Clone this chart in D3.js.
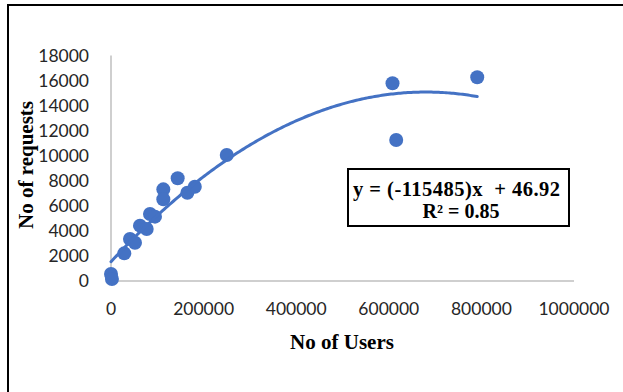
<!DOCTYPE html>
<html>
<head>
<meta charset="utf-8">
<script src="https://cdn.jsdelivr.net/npm/d3@7"></script>
<style>
  html, body { margin: 0; padding: 0; background: #fff; }
  svg { display: block; }
</style>
</head>
<body>
<svg id="chart" width="623" height="392"></svg>
<script>
// ---- data ----
const users    = [0, 2000, 28700, 41000, 51800, 62600, 77100, 84200, 95000, 113000, 113000, 144000, 165000, 181000, 250000, 608000, 616000, 791000];
const requests = [560, 160, 2210, 3350, 3060, 4420, 4150, 5350, 5140, 7320, 6530, 8200, 7050, 7530, 10060, 15790, 11260, 16270];
const xTicks = [0, 200000, 400000, 600000, 800000, 1000000];
const yTicks = [0, 2000, 4000, 6000, 8000, 10000, 12000, 14000, 16000, 18000];
// polynomial (order 2) trendline as drawn in the reference: c0 + c1*x + c2*x^2
const trendCoef = [1540, 0.03985, -2.93e-8];
const equationLines = ["y = (-115485)x  + 46.92", "R\u00B2 = 0.85"];

const blue = "#4472C4";
const svg = d3.select("#chart");

// outer frame (top and left edges visible)
svg.append("rect").attr("x", 8).attr("y", 5).attr("width", 640).attr("height", 420)
  .attr("fill", "none").attr("stroke", "#000").attr("stroke-width", 2);

const x = d3.scaleLinear().domain([0, 1000000]).range([111, 574]);
const y = d3.scaleLinear().domain([0, 18000]).range([281, 55.6]);

// axis lines
svg.append("line").attr("x1", x(0)).attr("x2", x(1000000)).attr("y1", y(0)).attr("y2", y(0))
  .attr("stroke", "#bfbfbf").attr("stroke-width", 1.5);
svg.append("line").attr("x1", x(0)).attr("x2", x(0)).attr("y1", y(0)).attr("y2", y(18000))
  .attr("stroke", "#bfbfbf").attr("stroke-width", 1.5);

const tickFont = "Lato, 'Open Sans', sans-serif";
// y tick labels
svg.append("g").selectAll("text").data(yTicks).join("text")
  .attr("x", 89).attr("y", d => y(d)).attr("dy", "0.36em")
  .attr("text-anchor", "end").attr("font-family", tickFont).attr("font-size", 17.5)
  .attr("fill", "#262626").text(d => d);
// x tick labels
svg.append("g").selectAll("text").data(xTicks).join("text")
  .attr("x", d => x(d)).attr("y", 315)
  .attr("text-anchor", "middle").attr("font-family", tickFont).attr("font-size", 17.5)
  .attr("fill", "#262626").text(d => d);

// axis titles
const titleFont = "'Liberation Serif', 'Times New Roman', serif";
svg.append("text").attr("x", 342).attr("y", 349).attr("text-anchor", "middle")
  .attr("font-family", titleFont).attr("font-weight", "bold").attr("font-size", 21)
  .text("No of Users");
svg.append("text").attr("transform", "translate(33,165) rotate(-90)").attr("text-anchor", "middle")
  .attr("font-family", titleFont).attr("font-weight", "bold").attr("font-size", 21)
  .text("No of requests");

// points
const pts = users.map((u, i) => [u, requests[i]]);
svg.append("g").selectAll("circle").data(pts).join("circle")
  .attr("cx", d => x(d[0])).attr("cy", d => y(d[1])).attr("r", 7)
  .attr("fill", blue);

// trendline
const xMax = d3.max(users);
const trendPts = d3.range(0, 201).map(i => {
  const xv = xMax * i / 200;
  return [xv, trendCoef[0] + trendCoef[1] * xv + trendCoef[2] * xv * xv];
});
svg.append("path").datum(trendPts)
  .attr("d", d3.line().x(d => x(d[0])).y(d => y(d[1])).curve(d3.curveLinear))
  .attr("fill", "none").attr("stroke", blue).attr("stroke-width", 3).attr("stroke-linecap", "round");

// equation box
svg.append("rect").attr("x", 348).attr("y", 169).attr("width", 221).attr("height", 57)
  .attr("fill", "#fff").attr("stroke", "#000").attr("stroke-width", 2);
const eq = svg.append("g").attr("font-family", titleFont).attr("font-weight", "bold");
eq.append("text").attr("x", 353).attr("y", 196)
  .attr("xml:space", "preserve").style("white-space", "pre")
  .attr("font-size", 20.5).attr("textLength", 207).attr("lengthAdjust", "spacing")
  .text(equationLines[0]);
eq.append("text").attr("x", 461).attr("y", 217.5).attr("text-anchor", "middle")
  .attr("font-size", 20).text(equationLines[1]);
</script>
</body>
</html>
